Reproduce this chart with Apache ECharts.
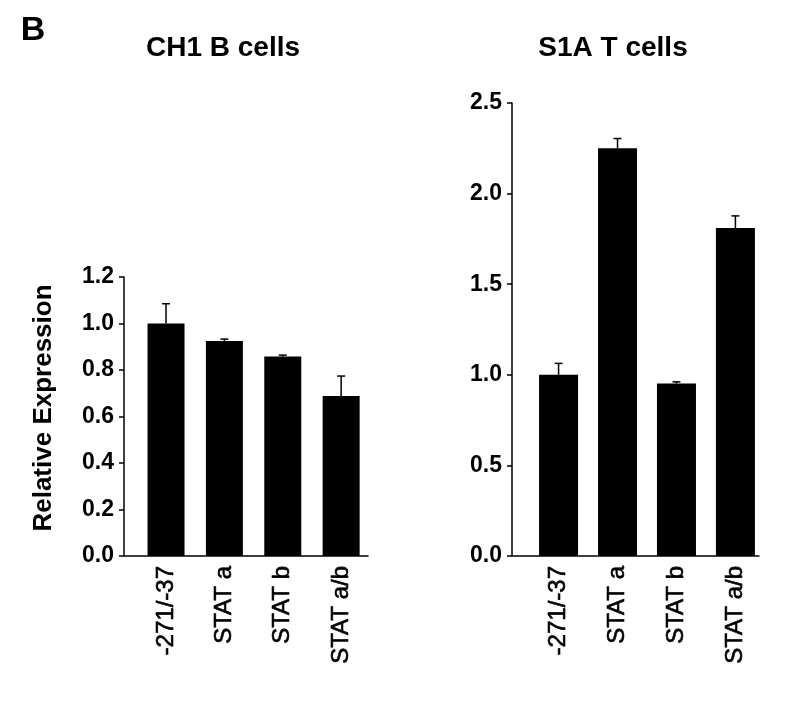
<!DOCTYPE html>
<html>
<head>
<meta charset="utf-8">
<script src="https://cdn.jsdelivr.net/npm/echarts@6/dist/echarts.min.js"></script>
<style>html,body{margin:0;padding:0;background:#fff}#c{width:800px;height:712px}</style>
</head>
<body>
<div id="c"></div>
<script>
var categories = ['-271/-37', 'STAT a', 'STAT b', 'STAT a/b'];
var ch1Means = [1.0, 0.925, 0.858, 0.688];
var ch1Err = [0.085, 0.008, 0.006, 0.086];
var s1aMeans = [1.0, 2.25, 0.952, 1.81];
var s1aErr = [0.063, 0.054, 0.009, 0.067];
var ch1Ticks = [0, 0.2, 0.4, 0.6, 0.8, 1.0, 1.2];
var s1aTicks = [0, 0.5, 1.0, 1.5, 2.0, 2.5];

var FONT = '"Liberation Sans", Arial, Helvetica, sans-serif';
var chart = echarts.init(document.getElementById('c'), null, {renderer: 'canvas'});

function pts(means, errs) {
  return means.map(function (m, i) { return [i, m, errs[i]]; });
}
function errRender(params, api) {
  var x = api.value(0), v = api.value(1), e = api.value(2);
  var p0 = api.coord([x, v]);
  var p1 = api.coord([x, v + e]);
  var st = {stroke: '#000', lineWidth: 1.5};
  return {
    type: 'group',
    children: [
      {type: 'line', shape: {x1: p0[0], y1: p0[1], x2: p1[0], y2: p1[1]}, style: st},
      {type: 'line', shape: {x1: p1[0] - 4, y1: p1[1], x2: p1[0] + 4, y2: p1[1]}, style: st}
    ]
  };
}
function xAxisDef(gi, min, max) {
  return {
    type: 'value', gridIndex: gi, min: min, max: max,
    splitLine: {show: false},
    axisLine: {show: true, onZero: false, lineStyle: {color: '#000', width: 1.5}},
    axisTick: {show: false},
    axisLabel: {
      customValues: [0, 1, 2, 3], rotate: 90, margin: 10,
      fontSize: 24, fontFamily: FONT, color: '#000',
      textBorderColor: '#000', textBorderWidth: 0.6,
      formatter: function (v) { return categories[Math.round(v)]; }
    }
  };
}
function yAxisDef(gi, max, interval) {
  return {
    type: 'value', gridIndex: gi, min: 0, max: max, interval: interval,
    splitLine: {show: false},
    axisLine: {show: true, onZero: false, lineStyle: {color: '#000', width: 1.5}},
    axisTick: {show: true, length: 5, lineStyle: {color: '#000', width: 1.5}},
    axisLabel: {
      margin: 10, fontSize: 23, fontWeight: 'bold', fontFamily: FONT, color: '#000',
      formatter: function (v) { return v.toFixed(1); }
    }
  };
}

chart.setOption({
  animation: false,
  backgroundColor: '#fff',
  graphic: [
    {type: 'text', x: 33, y: 31, style: {text: 'B', font: 'bold 34px ' + FONT, fill: '#000', align: 'center', verticalAlign: 'middle'}},
    {type: 'text', x: 223, y: 48, style: {text: 'CH1 B cells', font: 'bold 28px ' + FONT, fill: '#000', align: 'center', verticalAlign: 'middle'}},
    {type: 'text', x: 613, y: 48, style: {text: 'S1A T cells', font: 'bold 28px ' + FONT, fill: '#000', align: 'center', verticalAlign: 'middle'}},
    {type: 'text', x: 44, y: 408, rotation: Math.PI / 2, style: {text: 'Relative Expression', font: 'bold 26px ' + FONT, fill: '#000', align: 'center', verticalAlign: 'middle'}}
  ],
  grid: [
    {left: 124, top: 277, width: 244, height: 279},
    {left: 512, top: 103, width: 247, height: 453}
  ],
  xAxis: [xAxisDef(0, -0.72, 3.46), xAxisDef(1, -0.79, 3.40)],
  yAxis: [yAxisDef(0, ch1Ticks[ch1Ticks.length - 1], 0.2), yAxisDef(1, s1aTicks[s1aTicks.length - 1], 0.5)],
  series: [
    {type: 'bar', xAxisIndex: 0, yAxisIndex: 0, barWidth: 37, itemStyle: {color: '#000'},
     data: ch1Means.map(function (m, i) { return [i, m]; })},
    {type: 'custom', xAxisIndex: 0, yAxisIndex: 0, renderItem: errRender, data: pts(ch1Means, ch1Err), z: 3},
    {type: 'bar', xAxisIndex: 1, yAxisIndex: 1, barWidth: 39, itemStyle: {color: '#000'},
     data: s1aMeans.map(function (m, i) { return [i, m]; })},
    {type: 'custom', xAxisIndex: 1, yAxisIndex: 1, renderItem: errRender, data: pts(s1aMeans, s1aErr), z: 3}
  ]
});
</script>
</body>
</html>
